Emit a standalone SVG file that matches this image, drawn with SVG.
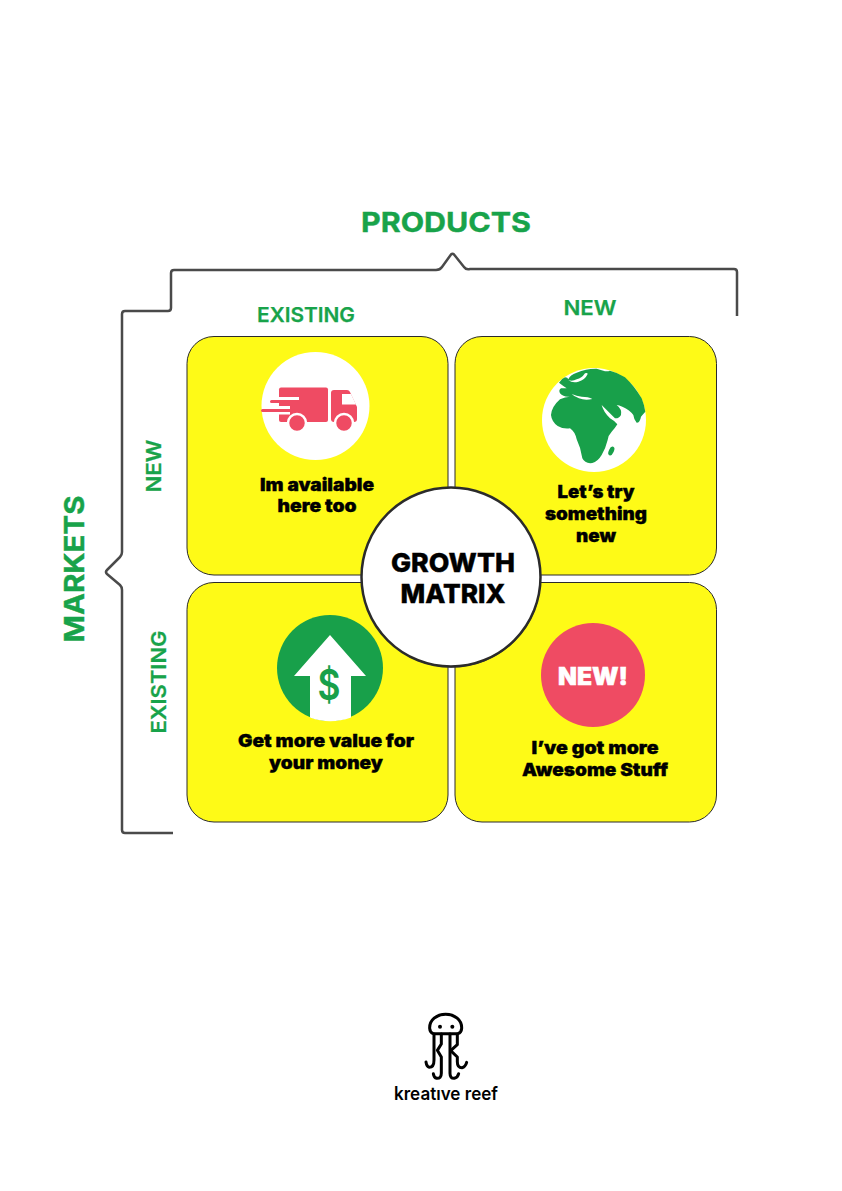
<svg xmlns="http://www.w3.org/2000/svg" width="842" height="1191" viewBox="0 0 842 1191">
<style>
.card{fill:#fefa17;stroke:#2b2b2b;stroke-width:1}
.t{font-family:Inter,"Liberation Sans",sans-serif;text-anchor:middle}
.g{fill:#18a34a;font-weight:600;stroke:#18a34a;stroke-width:.25}
.gb{font-weight:700;stroke-width:.4}
.k{fill:#000;font-weight:900;font-size:17.5px;stroke:#000;stroke-width:.35}
.br{fill:none;stroke:#4a4a4a;stroke-width:2.5;stroke-linejoin:round}
.green{fill:#18a04a}.red{fill:#ef4b63}.w{fill:#fff}
.jl{fill:none;stroke:#000;stroke-width:9;stroke-linecap:round;stroke-linejoin:round}
</style>
<rect width="842" height="1191" fill="#fff"/>
<g id="connectors">
<path class="br" d="M737 316V272Q737 269 734 269H470Q466 270 464 267L454 254.500Q452.500 253 451 254.500L442 267Q440 270 436 270H174Q171 270 171 273V308Q171 311 168 311H125Q122 311 122 314V552Q122 555 120 557L107 570Q105 572 107 574L120 585Q122 587 122 590V830Q122 833 125 833H173"/>
</g>
<g id="label-products"><text class="t g gb" x="446" y="232" font-size="27.500" textLength="170" lengthAdjust="spacingAndGlyphs">PRODUCTS</text></g>
<g id="label-markets"><text class="t g gb" transform="translate(84 569) rotate(-90)" font-size="27.500" textLength="147" lengthAdjust="spacingAndGlyphs">MARKETS</text></g>
<g id="label-existing-top"><text class="t g" x="306" y="322" font-size="20.500" textLength="98" lengthAdjust="spacingAndGlyphs">EXISTING</text></g>
<g id="label-new-top"><text class="t g" x="590" y="315" font-size="20.500" textLength="53" lengthAdjust="spacingAndGlyphs">NEW</text></g>
<g id="label-new-left"><text class="t g" transform="translate(161 466) rotate(-90)" font-size="20.500" textLength="53" lengthAdjust="spacingAndGlyphs">NEW</text></g>
<g id="label-existing-left"><text class="t g" transform="translate(166 682) rotate(-90)" font-size="20.500" textLength="103" lengthAdjust="spacingAndGlyphs">EXISTING</text></g>

<g id="card-top-left">
<rect class="card" x="187" y="336.500" width="261" height="238.500" rx="27"/>
<circle class="w" cx="315.500" cy="406" r="54"/>
<rect class="red" x="279" y="387.500" width="49" height="34.500" rx="2"/>
<rect class="w" x="276" y="397" width="23" height="3"/>
<rect class="red" x="270" y="400" width="29" height="3" rx="1.500"/>
<rect class="w" x="276" y="406" width="14" height="3"/>
<rect class="red" x="261" y="409" width="29" height="3" rx="1.500"/>
<rect class="w" x="276" y="412" width="14" height="2.500"/>
<path class="red" d="M331 393Q331 390 334 390H347Q349 390 350 392L357 407V419Q357 422 354 422H334Q331 422 331 419Z"/>
<circle class="red" cx="297" cy="423" r="9" stroke="#fff" stroke-width="2.500"/>
<circle class="red" cx="344" cy="423" r="9" stroke="#fff" stroke-width="2.500"/>
<path class="w" d="M342 394V404.500H356L351 394Z"/>
<text class="t k" x="317" y="491" textLength="114" lengthAdjust="spacingAndGlyphs">Im available</text>
<text class="t k" x="317" y="512" textLength="79" lengthAdjust="spacingAndGlyphs">here too</text>
</g>

<g id="card-top-right">
<rect class="card" x="455" y="336.500" width="261.500" height="238.500" rx="27"/>
<circle class="w" cx="594" cy="420" r="52"/>
<g transform="translate(535 360) scale(.3333)">
<path class="green" d="M72 68Q82 55 90 52Q98 52 100 58Q105 45 125 38Q155 25 185 26L205 32Q215 36 225 32Q250 38 270 52Q298 78 320 115Q328 135 331 155Q322 165 318 170Q315 188 305 188Q297 180 295 165Q285 150 262 140Q252 136 245 135Q262 148 258 165Q252 176 240 175Q225 160 200 135Q205 155 225 175Q238 182 247 193Q240 205 230 215Q220 225 218 240Q212 265 200 285Q188 305 172 309Q150 312 142 295Q138 265 125 238Q120 215 105 205Q85 208 68 198Q50 185 48 165Q50 140 75 118Q90 110 105 110Q85 112 75 100Q70 90 78 85L95 85Q85 78 72 68Z"/>
<path class="w" d="M100 60Q112 65 125 58Q140 55 150 40Q158 38 158 42Q150 60 130 65Q112 70 100 60Z"/>
<path class="w" d="M110 102Q125 108 140 110Q160 110 172 117Q150 122 132 115Q118 110 110 102Z"/>
<ellipse class="green" cx="229" cy="273" rx="7.500" ry="14" transform="rotate(25 229 273)"/>
</g>
<text class="t k" x="596" y="498" textLength="77" lengthAdjust="spacingAndGlyphs">Let’s try</text>
<text class="t k" x="596" y="520" textLength="102" lengthAdjust="spacingAndGlyphs">something</text>
<text class="t k" x="596" y="542" textLength="40" lengthAdjust="spacingAndGlyphs">new</text>
</g>

<g id="card-bottom-left">
<rect class="card" x="187" y="582.500" width="261" height="239.500" rx="27"/>
<circle class="green" cx="330" cy="668" r="53"/>
<path class="w" d="M330 635L366 676H351V717.500Q330 725 310 717.500V676H294Z"/>
<text class="t" x="329" y="699.500" font-size="42" font-weight="600" fill="#18a04a" textLength="23" lengthAdjust="spacingAndGlyphs">$</text>
<text class="t k" x="326" y="747" textLength="176" lengthAdjust="spacingAndGlyphs">Get more value for</text>
<text class="t k" x="326" y="769" textLength="114" lengthAdjust="spacingAndGlyphs">your money</text>
</g>

<g id="card-bottom-right">
<rect class="card" x="455" y="582.500" width="261.500" height="239.500" rx="27"/>
<circle class="red" cx="593" cy="675" r="52"/>
<text class="t" x="593" y="685" font-size="24" font-weight="900" fill="#fff" stroke="#fff" stroke-width=".5" textLength="70" lengthAdjust="spacingAndGlyphs">NEW!</text>
<text class="t k" x="595" y="754" textLength="127" lengthAdjust="spacingAndGlyphs">I’ve got more</text>
<text class="t k" x="595" y="776" textLength="146" lengthAdjust="spacingAndGlyphs">Awesome Stuff</text>
</g>

<g id="center">
<circle cx="451.500" cy="578" r="89.500" fill="#444"/>
<circle cx="451" cy="577" r="89.500" fill="#fff" stroke="#2b2b2b" stroke-width="2.500"/>
<text class="t" x="453" y="572" font-size="26" font-weight="800" fill="#000" stroke="#000" stroke-width=".4" textLength="124" lengthAdjust="spacingAndGlyphs">GROWTH</text>
<text class="t" x="453" y="603" font-size="26" font-weight="800" fill="#000" stroke="#000" stroke-width=".4" textLength="105" lengthAdjust="spacingAndGlyphs">MATRIX</text>
</g>

<g id="logo">
<g transform="translate(420 1010) scale(.3333)">
<path class="jl" d="M40 71Q30 68 29 55C28 30 50 13 77 13C104 13 126 30 125 55Q124 68 114 71Z"/>
<circle cx="60" cy="50" r="6"/>
<circle cx="97" cy="50" r="6"/>
<path class="jl" d="M42 72V150Q42 172 28 172Q20 170 18 156"/>
<path class="jl" d="M64 72V102L52 121L64 141V190Q64 206 50 205Q42 203 40 191"/>
<path class="jl" d="M90 72V190Q90 206 103 205Q113 203 116 191"/>
<path class="jl" d="M112 72V104L92 122L112 141V155Q112 173 126 173Q136 171 140 157"/>
</g>
<text class="t" x="446" y="1100" font-size="18" font-weight="600" fill="#000" textLength="104" lengthAdjust="spacingAndGlyphs">kreatıve reef</text>
</g>
</svg>
